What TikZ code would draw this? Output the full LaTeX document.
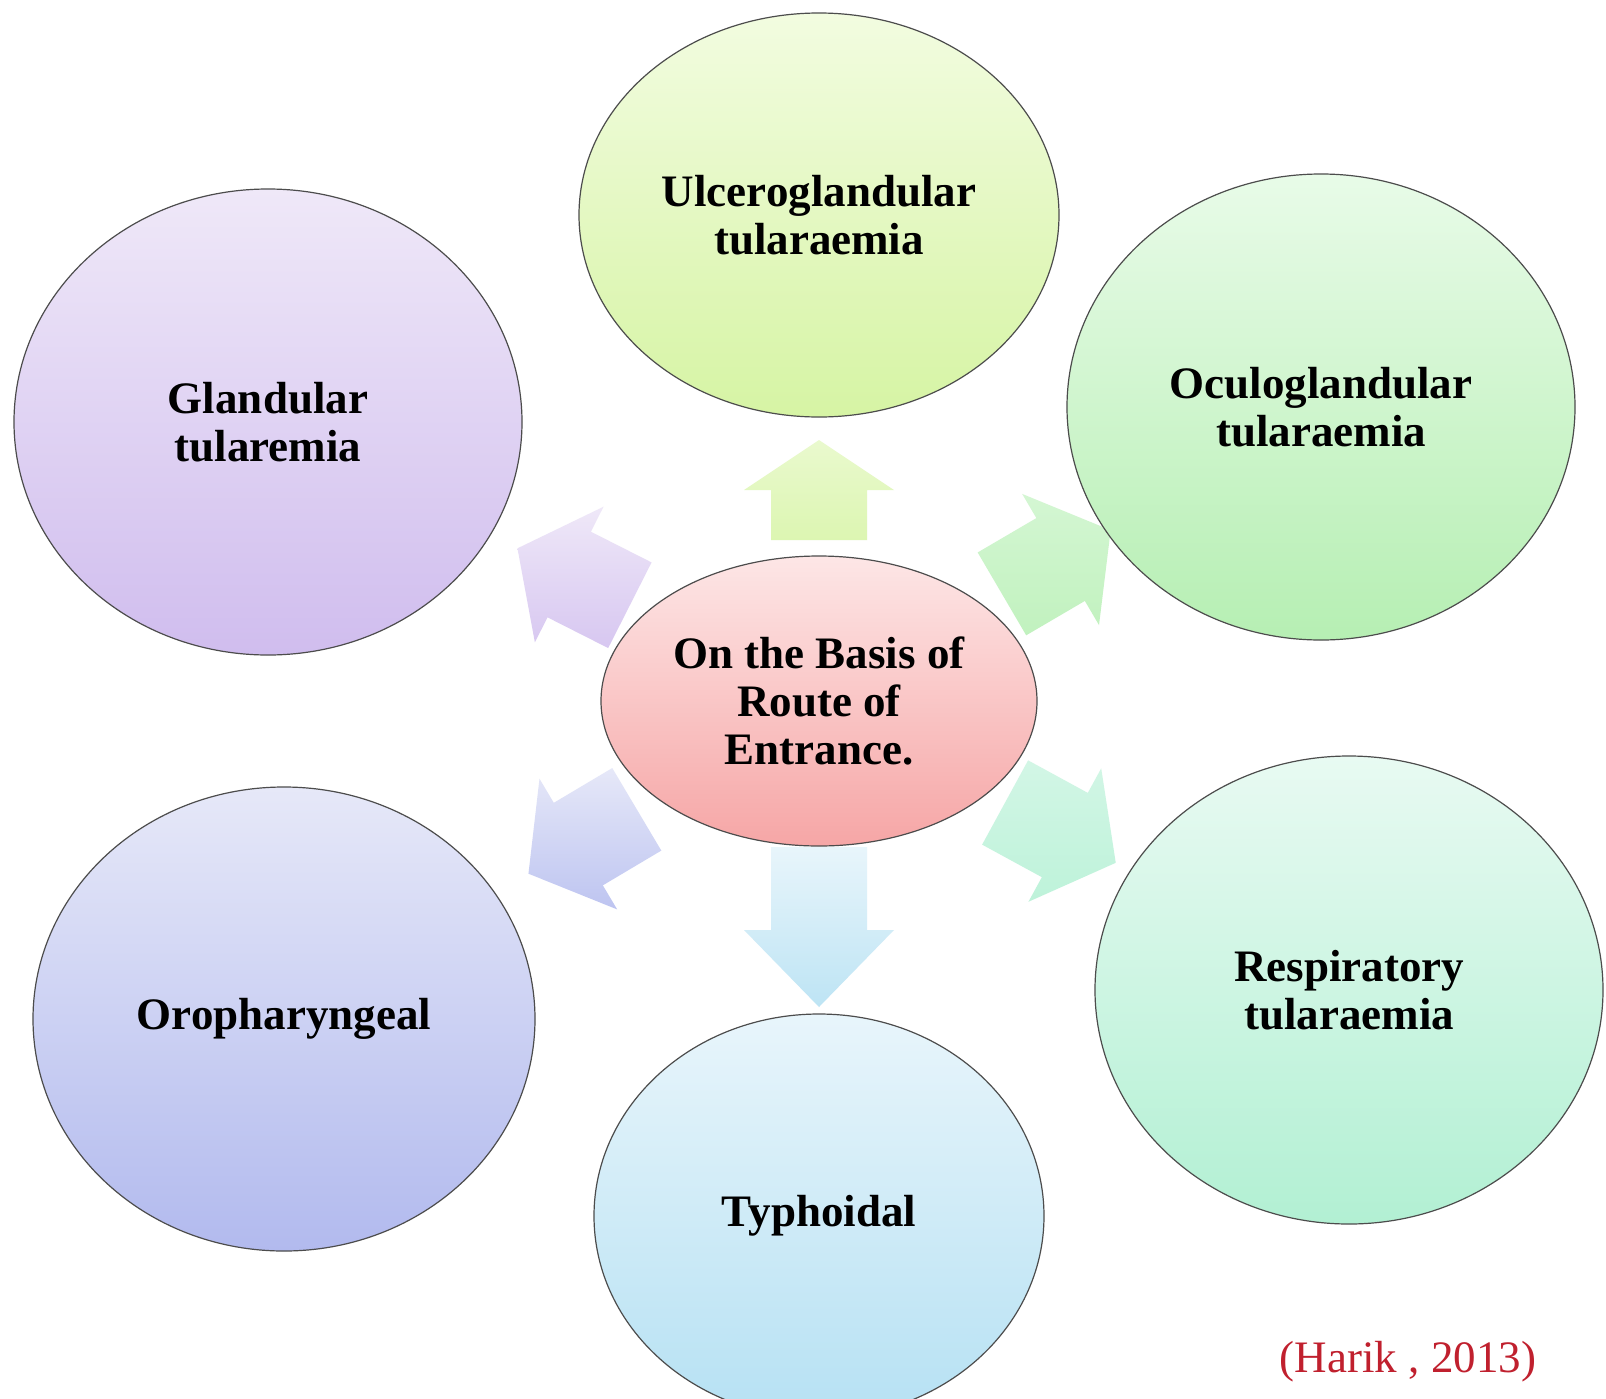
\documentclass[tikz,border=0pt]{standalone}
\usepackage{fontspec}
\setmainfont{Liberation Serif}
\usetikzlibrary{shapes.geometric,calc}
\definecolor{ulT}{HTML}{F2FCE0}\definecolor{ulB}{HTML}{D6F4A4}
\definecolor{glT}{HTML}{EFE8F8}\definecolor{glB}{HTML}{D0BDEE}
\definecolor{ocT}{HTML}{E8FBE8}\definecolor{ocB}{HTML}{B6EFB3}
\definecolor{orT}{HTML}{E6E8F8}\definecolor{orB}{HTML}{B2BAEE}
\definecolor{reT}{HTML}{E8FAF2}\definecolor{reB}{HTML}{B2F0D3}
\definecolor{tyT}{HTML}{E8F5FB}\definecolor{tyB}{HTML}{B6E1F3}
\definecolor{ceT}{HTML}{FDE6E6}\definecolor{ceB}{HTML}{F6A6A6}
\definecolor{cite}{HTML}{C0202E}
\tikzset{
  bubble/.style={ellipse, draw=black!70, line width=0.6pt, inner sep=0pt,
    align=center, font=\bfseries\fontsize{22.5}{24}\selectfont},
  blockarrow/.style={draw=none},
}
% #1 from node, #2 to node, #3 shaft start, #4 head base, #5 tip,
% #6 shaft half width, #7 head half width, #8 style
\newcommand\radarrow[8]{%
  \coordinate (ra) at ($(#1)!#3!(#2)$);
  \coordinate (rb) at ($(#1)!#4!(#2)$);
  \coordinate (rt) at ($(#1)!#5!(#2)$);
  \path[blockarrow,#8] ($(ra)!#6!90:(#2)$) -- ($(rb)!#6!90:(#2)$) -- ($(rb)!#7!90:(#2)$)
    -- (rt) -- ($(rb)!#7!-90:(#2)$) -- ($(rb)!#6!-90:(#2)$) -- ($(ra)!#6!-90:(#2)$) -- cycle;
}
\begin{document}
\begin{tikzpicture}[x=0.5pt,y=-0.5pt]
\useasboundingbox (0,0) rectangle (1606,1398);
\clip (0,0) rectangle (1606,1398);
\fill[white] (0,0) rectangle (1606,1398);

% node centres
\coordinate (cC) at (819,701);
\coordinate (cU) at (819,215);
\coordinate (cG) at (268,422);
\coordinate (cO) at (1321,407);
\coordinate (cP) at (284,1019);
\coordinate (cR) at (1349,990);
\coordinate (cT) at (819,1216);

% arrows (behind the ellipses)
\radarrow{cC}{cU}{80.5pt}{105.5pt}{130.5pt}{24pt}{37.5pt}{top color=ulT!70!ulB, bottom color=ulB!85!white}
\radarrow{cC}{cT}{73pt}{114.5pt}{153pt}{24pt}{37.5pt}{top color=tyT, bottom color=tyB!90!white}
\radarrow{cC}{cG}{106pt}{140pt}{169pt}{24pt}{38pt}{top color=glT, bottom color=glB!85!white}
\radarrow{cC}{cO}{106pt}{140pt}{169pt}{24pt}{38pt}{top color=ocT!60!ocB, bottom color=ocB!85!white}
\radarrow{cC}{cP}{106pt}{140pt}{169pt}{24pt}{38pt}{top color=orT, bottom color=orB!85!white}
\radarrow{cC}{cR}{106pt}{140pt}{169pt}{24pt}{38pt}{top color=reT!60!reB, bottom color=reB!85!white}

% ellipses
\node[bubble, minimum width=240pt, minimum height=202pt, top color=ulT, bottom color=ulB] (U) at (cU) {Ulceroglandular\\tularaemia};
\node[bubble, minimum width=254pt, minimum height=233pt, top color=glT, bottom color=glB] (G) at (cG) {Glandular\\tularemia};
\node[bubble, minimum width=254pt, minimum height=233pt, top color=ocT, bottom color=ocB] (O) at (cO) {Oculoglandular\\tularaemia};
\node[bubble, minimum width=251pt, minimum height=232pt, top color=orT, bottom color=orB] (P) at (cP) {Oropharyngeal};
\node[bubble, minimum width=254pt, minimum height=234pt, top color=reT, bottom color=reB] (R) at (cR) {Respiratory\\tularaemia};
\node[bubble, minimum width=225pt, minimum height=202pt, top color=tyT, bottom color=tyB] (T) at (cT) {Typhoidal};
\node[bubble, minimum width=218pt, minimum height=145pt, top color=ceT, bottom color=ceB] (C) at (cC) {On the Basis of\\Route of\\Entrance.};

\node[text=cite, font=\fontsize{22.5}{24}\selectfont] (cit) at (1408,1362) {(Harik , 2013)};
\end{tikzpicture}
\end{document}
